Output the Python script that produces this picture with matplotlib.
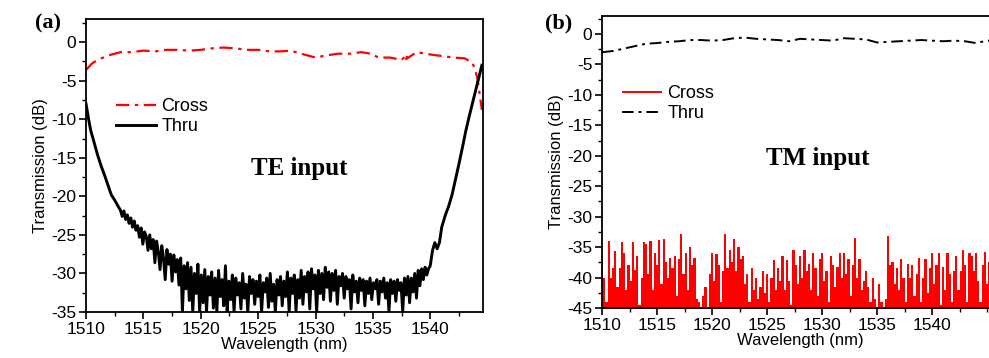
import numpy as np
import matplotlib
matplotlib.use("Agg")
import matplotlib.pyplot as plt
from matplotlib.ticker import MultipleLocator

plt.rcParams['font.family'] = ['Liberation Sans', 'DejaVu Sans']
plt.rcParams['axes.unicode_minus'] = False

# ---- panel (a): TE input ----
cross_a_wl = [1510.0, 1510.5, 1511.0, 1512.0, 1513.0, 1514.0, 1515.0, 1516.0,
              1517.0, 1518.0, 1519.0, 1520.0, 1521.0, 1522.0, 1523.0, 1524.0,
              1525.0, 1526.0, 1527.0, 1527.8, 1529.0, 1530.0, 1531.0, 1532.0,
              1533.0, 1534.0, 1534.8, 1535.5, 1536.5, 1537.5, 1538.0, 1537.9,
              1538.8, 1540.0, 1541.0, 1542.0, 1543.0, 1543.7, 1544.1, 1544.5]
cross_a_db = [-3.6, -2.8, -2.3, -1.7, -1.3, -1.3, -1.1, -1.2,
              -1.0, -1.0, -1.1, -1.0, -0.8, -0.7, -0.8, -1.0,
              -1.0, -1.2, -1.2, -1.1, -1.6, -2.0, -1.7, -1.5,
              -1.5, -1.3, -1.5, -2.0, -2.0, -2.3, -1.6, -2.2,
              -1.3, -1.6, -1.8, -2.0, -2.1, -2.7, -4.6, -8.8]

thru_a_left_wl = [1510.0, 1510.2, 1510.4, 1510.7, 1511.0, 1511.3, 1511.6,
                  1511.9, 1512.2, 1512.5, 1512.8]
thru_a_left_db = [-8.0, -9.8, -11.4, -13.0, -14.6, -16.0, -17.2,
                  -18.5, -19.8, -20.5, -21.3]

# noisy floor sampled every 0.15 nm from 1513.0 nm
thru_a_noise_db = [
    -21.8, -22.6, -21.9, -23.0, -22.4, -23.5, -22.8, -24.0, -23.2, -24.4,
    -23.8, -25.3, -24.1, -26.2, -24.6, -25.2, -27.0, -25.0, -26.8, -25.6,
    -28.6, -25.8, -27.2, -29.5, -26.4, -28.0, -30.8, -26.9, -28.8, -27.5,
    -31.0, -27.6, -29.8, -28.2, -31.5, -28.0, -35.0, -29.0, -32.0, -28.6,
    -33.5, -29.2, -35.0, -30.0, -32.6, -28.8, -35.0, -30.2, -33.8, -29.5,
    -35.0, -30.4, -32.8, -29.8, -34.5, -30.6, -35.0, -29.6, -33.0, -30.8,
    -34.2, -29.0, -35.0, -31.0, -33.4, -30.2, -35.0, -30.6, -32.8, -31.2,
    -34.6, -30.0, -33.2, -31.4, -35.0, -30.4, -32.6, -30.8, -34.0, -31.0,
    -33.0, -30.2, -35.0, -31.2, -32.4, -30.6, -34.4, -30.0, -33.6, -31.4,
    -35.0, -30.8, -32.8, -30.4, -34.2, -31.0, -33.0, -29.8, -35.0, -30.6,
    -32.6, -30.2, -34.8, -30.8, -33.2, -29.6, -34.0, -30.4, -32.4, -29.8,
    -34.6, -29.4, -32.0, -30.2, -35.0, -29.6, -32.6, -30.0, -33.4, -29.2,
    -31.8, -29.8, -33.6, -30.0, -32.2, -29.6, -34.0, -30.4, -31.6, -30.0,
    -33.2, -30.4, -32.0, -30.8, -34.6, -30.2, -32.4, -31.0, -33.8, -30.6,
    -32.2, -30.8, -34.2, -31.0, -32.6, -30.6, -33.4, -31.2, -32.0, -30.8,
    -34.0, -31.0, -32.4, -30.6, -33.2, -31.2, -35.0, -30.8, -32.6, -31.0,
    -33.6, -30.8, -32.2, -31.2, -35.0, -30.6, -32.8, -30.4, -33.8, -30.6,
    -32.4, -30.0, -33.2, -29.6, -31.6, -29.4, -30.8, -29.2, -30.2, -29.4,
]

thru_a_right_wl = [1540.0, 1540.2, 1540.4, 1540.6, 1540.8, 1541.0, 1541.3,
                   1541.6, 1541.9, 1542.2, 1542.5, 1542.8, 1543.1, 1543.4,
                   1543.7, 1544.0, 1544.3, 1544.5]
thru_a_right_db = [-29.0, -27.0, -26.0, -26.8, -26.0, -24.0, -22.5,
                   -21.3, -19.8, -17.8, -15.8, -13.7, -11.5, -9.6,
                   -7.8, -6.0, -4.2, -3.0]

# ---- panel (b): TM input ----
thru_b_wl = [1510, 1511, 1512, 1513, 1514, 1515, 1516, 1517, 1518, 1519,
             1520, 1521, 1522, 1523, 1524, 1525, 1526, 1527, 1528, 1529,
             1530, 1531, 1532, 1533, 1534, 1535, 1536, 1537, 1538, 1539,
             1540, 1541, 1542, 1543, 1544, 1545, 1546]
thru_b_db = [-3.0, -2.8, -2.4, -2.0, -1.6, -1.5, -1.3, -1.2, -1.0, -1.0,
             -1.1, -1.0, -0.7, -0.6, -0.8, -0.9, -1.0, -1.2, -0.8, -0.9,
             -1.0, -1.1, -0.7, -0.8, -0.9, -1.4, -1.3, -1.2, -1.1, -1.0,
             -1.1, -1.2, -1.1, -1.2, -1.5, -1.1, -1.1]

# cross-port noise peaks every 0.2 nm from 1510.0 nm
cross_b_peak = [
    -37.3, -40.0, -44.0, -34.0, -40.0, -38.4, -35.7, -41.5, -38.5, -34.1,
    -36.0, -42.0, -38.0, -40.5, -34.2, -38.8, -36.5, -44.5, -40.0, -34.2,
    -34.5, -39.5, -34.0, -42.0, -36.0, -38.0, -33.8, -41.0, -33.7, -37.5,
    -40.0, -36.8, -38.5, -36.5, -43.0, -37.0, -32.8, -39.5, -36.0, -42.0,
    -35.0, -38.0, -36.8, -43.5, -44.0, -45.0, -43.0, -41.5, -45.0, -39.5,
    -36.0, -40.5, -36.2, -38.0, -44.0, -39.0, -32.8, -38.5, -35.5, -37.5,
    -33.7, -39.0, -35.0, -37.0, -36.5, -41.0, -39.5, -44.0, -38.5, -42.0,
    -40.0, -43.5, -41.5, -39.0, -42.5, -39.5, -44.0, -40.0, -37.2, -42.0,
    -38.5, -40.5, -36.5, -42.0, -37.2, -40.5, -44.5, -35.5, -38.0, -41.0,
    -36.5, -40.0, -35.5, -39.0, -37.8, -42.0, -36.0, -38.5, -43.0, -37.0,
    -36.0, -40.5, -39.0, -44.0, -36.5, -38.0, -41.5, -38.2, -36.0, -40.0,
    -36.0, -39.5, -37.0, -43.0, -38.0, -33.5, -40.0, -37.0, -42.0, -40.5,
    -39.0, -41.5, -44.0, -40.0, -43.5, -45.0, -41.0, -44.0, -45.0, -43.5,
    -33.2, -38.0, -37.5, -41.0, -38.5, -42.0, -37.0, -40.0, -44.0, -37.8,
    -40.0, -38.0, -43.0, -39.5, -36.8, -44.0, -40.0, -37.0, -42.5, -38.5,
    -36.0, -41.0, -38.0, -36.0, -44.5, -38.2, -42.0, -36.0, -39.5, -44.0,
    -39.0, -36.5, -42.0, -39.0, -35.5, -38.0, -44.0, -36.0, -36.5, -39.0,
    -36.0, -40.5, -44.0, -38.0, -35.8, -41.0, -37.5, -39.5, -42.0, -38.0,
]

noise_wl_a = 1513.0 + 0.15 * np.arange(len(thru_a_noise_db))
thru_a_wl = np.concatenate([thru_a_left_wl, noise_wl_a, thru_a_right_wl])
thru_a_db = np.concatenate([thru_a_left_db, thru_a_noise_db, thru_a_right_db])
cross_b_wl = 1510.0 + 0.2 * np.arange(len(cross_b_peak))

dashdot = (0, (6, 2.5, 1.5, 2.5))

fig = plt.figure(figsize=(9.89, 3.58), dpi=100)
ax1 = fig.add_axes([0.087, 0.1285, 0.4014, 0.8184])
ax2 = fig.add_axes([0.6087, 0.1397, 0.4004, 0.8165])

ax1.plot(cross_a_wl, cross_a_db, color='red', lw=1.6, linestyle=dashdot, label='Cross')
ax1.plot(thru_a_wl, thru_a_db, color='black', lw=2.1, label='Thru')
ax1.set_xlim(1510, 1544.6)
ax1.set_ylim(-35, 3)
ax1.set_yticks(np.arange(-35, 1, 5))

# spiky noise floor: filled steps plus spikes
ax2.fill_between(cross_b_wl, -46, cross_b_peak, step='mid', color='red', lw=0)
ax2.vlines(cross_b_wl, -46, cross_b_peak, color='red', lw=1.4, label='Cross')
ax2.plot(thru_b_wl, thru_b_db, color='black', lw=1.4, linestyle=dashdot, label='Thru')
ax2.set_xlim(1510, 1546)
ax2.set_ylim(-45, 3)
ax2.set_yticks(np.arange(-45, 1, 5))

for ax, lx, ly in ((ax1, 0.035, 0.785), (ax2, 0.01, 0.817)):
    ax.set_xticks(np.arange(1510, 1545, 5))
    ax.xaxis.set_minor_locator(MultipleLocator(2.5))
    ax.yaxis.set_minor_locator(MultipleLocator(2.5))
    ax.tick_params(which='major', direction='out', length=5, width=1.2, labelsize=12.5,
                   top=False, right=False, pad=2)
    ax.tick_params(which='minor', direction='out', length=3, width=1.0, top=False, right=False)
    for s in ax.spines.values():
        s.set_linewidth(1.3)
        s.set_zorder(3)
    ax.set_xlabel('Wavelength (nm)', fontsize=12, labelpad=0)
    ax.set_ylabel('Transmission (dB)', fontsize=12, labelpad=2)
    ax.legend(loc='upper left', bbox_to_anchor=(lx, ly), frameon=False, fontsize=13,
              handlelength=2.2, handletextpad=0.3, labelspacing=0.15)

ax1.text(0.537, 0.49, 'TE input', transform=ax1.transAxes, ha='center', va='center',
         fontsize=18, fontweight='bold', family=['Liberation Serif', 'DejaVu Serif'])
ax2.text(0.545, 0.51, 'TM input', transform=ax2.transAxes, ha='center', va='center',
         fontsize=18, fontweight='bold', family=['Liberation Serif', 'DejaVu Serif'])

fig.text(0.049, 0.935, '(a)', ha='center', va='center', fontsize=16, fontweight='bold',
         family=['Liberation Serif', 'DejaVu Serif'])
fig.text(0.565, 0.935, '(b)', ha='center', va='center', fontsize=16, fontweight='bold',
         family=['Liberation Serif', 'DejaVu Serif'])

fig.savefig('out.png', dpi=100)
